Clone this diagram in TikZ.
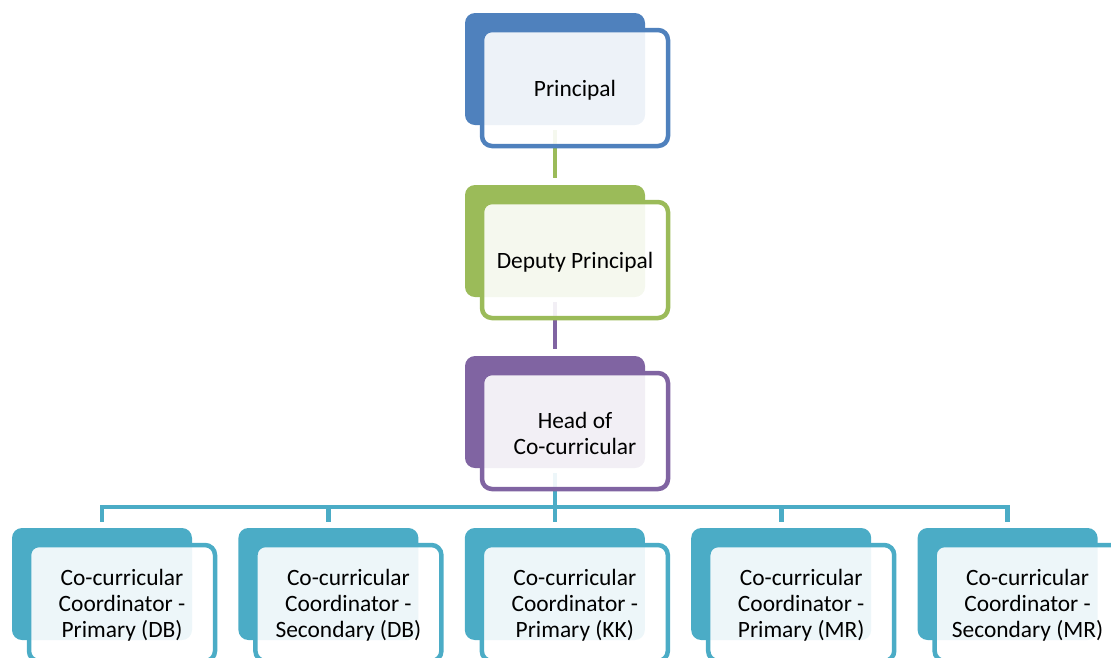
\documentclass[tikz,border=0pt]{standalone}
\usepackage{fontspec}
\setmainfont{Carlito}
\pgfdeclarelayer{bg}
\pgfsetlayers{bg,main}
\definecolor{cBlue}{HTML}{4F81BD}
\definecolor{cGreen}{HTML}{9BBB59}
\definecolor{cPurple}{HTML}{8064A2}
\definecolor{cTeal}{HTML}{4BACC6}
\begin{document}
\begin{tikzpicture}[x=1pt,y=-1pt,
  back/.style={draw=none, fill=#1, rounded corners=10pt, minimum width=180pt, minimum height=112pt, inner sep=0pt, outer sep=0pt, anchor=north west},
  front/.style={draw=#1, line width=4.5pt, fill=white, fill opacity=0.9, rounded corners=10pt, minimum width=186pt, minimum height=116pt, inner sep=0pt, outer sep=0pt, anchor=north west},
  lbl/.style={align=center, inner sep=0pt, font=\fontsize{23.4}{26}\selectfont},
  conn/.style={line width=4.6pt, draw=#1}]
\useasboundingbox (0,0) rectangle (1111,657);
\clip (0,0) rectangle (1111,657);
% top chain
\node[back=cBlue] (pB) at (465,13) {};
\node[front=cBlue] (p) at (482,30) {};
\node[lbl] (pT) at ([yshift=-2pt]p.center) {Principal};
\node[back=cGreen] (dB) at (465,185) {};
\node[front=cGreen] (d) at (482,202) {};
\node[lbl] (dT) at ([yshift=-2pt]d.center) {Deputy Principal};
\node[back=cPurple] (hB) at (465,356) {};
\node[front=cPurple] (h) at (482,373) {};
\node[lbl] (hT) at ([yshift=-2pt]h.center) {Head of\\Co-curricular};
% bottom row
\foreach \i/\t in {1/Primary (DB),2/Secondary (DB),3/Primary (KK),4/Primary (MR),5/Secondary (MR)}{
  \node[back=cTeal] (kB\i) at ({12+226.4*(\i-1)},528) {};
  \node[front=cTeal] (k\i) at ({29+226.4*(\i-1)},545) {};
  \node[lbl] (kT\i) at ([yshift=-2pt]k\i.center) {Co-curricular\\Coordinator -\\\t};
}
\begin{pgfonlayer}{bg}
\draw[conn=cGreen, shorten <=5pt, shorten >=7pt] (pB.south) -- (dB.north);
\draw[conn=cPurple, shorten <=5pt, shorten >=7pt] (dB.south) -- (hB.north);
\foreach \i in {1,...,5}{
  \draw[conn=cTeal, shorten <=5pt, shorten >=6pt] (hB.south) -- ++(0,39) -| (kB\i.north);
}
\end{pgfonlayer}
\end{tikzpicture}
\end{document}
